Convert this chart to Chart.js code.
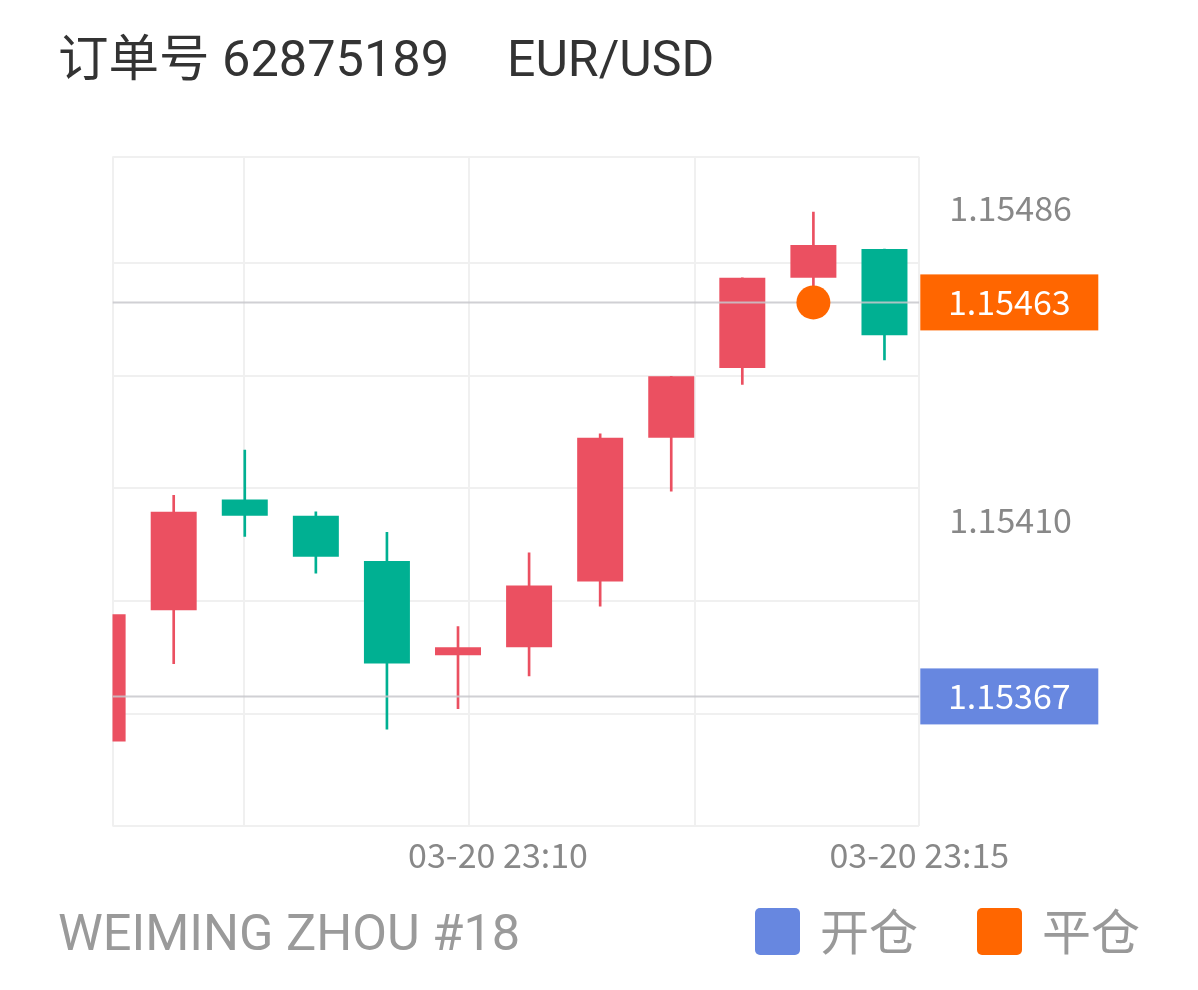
<!DOCTYPE html>
<html><head><meta charset="utf-8">
<script src="https://cdn.jsdelivr.net/npm/chart.js@4.4.1/dist/chart.umd.min.js"></script>
<style>
html,body{margin:0;padding:0;background:#fff;width:1198px;height:990px;overflow:hidden;}
#wrap{position:relative;width:1198px;height:990px;}
canvas{position:absolute;left:0;top:0;}
.t{position:absolute;font-family:Roboto,"Noto Sans CJK SC",sans-serif;line-height:1;white-space:nowrap;}
.cj{position:absolute;font-family:"Noto Sans CJK SC",sans-serif;line-height:1;white-space:nowrap;}
.sq{position:absolute;width:45px;height:47px;border-radius:5px;}
</style></head><body>
<div id="wrap">
<canvas id="c" width="1198" height="990"></canvas>
<div class="t" style="left:58px;top:34px;font-size:50.5px;color:#333">订单号 62875189</div>
<div class="t" style="left:507px;top:34px;font-size:50px;color:#333">EUR/USD</div>
<div class="t" style="left:58px;top:908px;font-size:50.5px;color:#9a9a9a">WEIMING ZHOU #18</div>
<div class="sq" style="left:755px;top:908px;background:#6787E0"></div>
<div class="cj" style="left:820px;top:904px;font-size:49px;color:#999">开仓</div>
<div class="sq" style="left:977px;top:908px;background:#FF6600"></div>
<div class="cj" style="left:1042px;top:904px;font-size:49px;color:#999">平仓</div>
</div>
<script>
// ---- data ----
const candleIndex = [0, 1, 2, 3, 4, 5, 6, 7, 8, 9, 10, 11];
const openValues  = [1.15356, 1.15388, 1.15415, 1.15411, 1.15400, 1.15377, 1.15379, 1.15395, 1.15430, 1.15447, 1.15469, 1.15476];
const closeValues = [1.15387, 1.15412, 1.15411, 1.15401, 1.15375, 1.15379, 1.15394, 1.15430, 1.15445, 1.15469, 1.15477, 1.15455];
const highValues  = [1.15387, 1.15416, 1.15427, 1.15412, 1.15407, 1.15384, 1.15402, 1.15431, 1.15445, 1.15469, 1.15485, 1.15476];
const lowValues   = [1.15356, 1.15375, 1.15406, 1.15397, 1.15359, 1.15364, 1.15372, 1.15389, 1.15417, 1.15443, 1.15463, 1.15449];
const openPrice = 1.15367;   // 开仓
const closePrice = 1.15463;  // 平仓
const closeIndex = 10;

const yTickValues = [1.15486, 1.15410];
const yTickLabels = ['1.15486', '1.15410'];
const yMin = 1.153355, yMax = 1.154985;
const yGridValues = [1.153355, 1.1536281, 1.1539024, 1.1541768, 1.1544511, 1.1547255, 1.154985];
const xMin = 0.139, xMax = 11.49;
const xGridValues = [0.139, 1.994, 5.159, 8.330, 11.49];
const xTickValues = [5.563, 11.49];
const xTickLabels = ['03-20 23:10', '03-20 23:15'];

// ---- styles ----
const UP = '#EB5061', DOWN = '#00B092', ORANGE = '#FF6600', BLUE = '#6787E0';
const GRID = '#f0f0f0';
const AXIS_FONT = '"Noto Sans CJK SC", "Noto Sans", sans-serif';

const candleColor = (ctx) => {
  const i = ctx.dataIndex;
  return closeValues[i] >= openValues[i] ? UP : DOWN;
};

const badgePlugin = {
  id: 'badges',
  afterDraw(chart) {
    const {ctx, chartArea, scales: {y}} = chart;
    [[openPrice, BLUE], [closePrice, ORANGE]].forEach(([v, c]) => {
      const py = y.getPixelForValue(v);
      const left = chartArea.right + 1;
      const w = y.right - left;
      ctx.save();
      ctx.fillStyle = c;
      ctx.fillRect(left, py - 28, w, 56);
      ctx.fillStyle = '#fff';
      ctx.font = '34px ' + AXIS_FONT;
      ctx.textAlign = 'center';
      ctx.textBaseline = 'middle';
      ctx.fillText(v.toFixed(5), left + w / 2, py);
      ctx.restore();
    });
  }
};

new Chart(document.getElementById('c'), {
  type: 'bar',
  data: {
    datasets: [
      {
        label: 'wick',
        data: candleIndex.map((x, i) => ({x, y: [lowValues[i], highValues[i]]})),
        backgroundColor: candleColor,
        barThickness: 2,
        grouped: false,
        order: 4
      },
      {
        label: 'body',
        data: candleIndex.map((x, i) => ({x, y: [openValues[i], closeValues[i]]})),
        backgroundColor: candleColor,
        barPercentage: 0.647,
        categoryPercentage: 1,
        grouped: false,
        order: 3
      },
      {
        type: 'line',
        label: 'open line',
        data: [{x: xMin, y: openPrice}, {x: xMax, y: openPrice}],
        borderColor: 'rgba(200,200,205,0.85)',
        borderWidth: 2,
        pointRadius: 0,
        order: 2
      },
      {
        type: 'line',
        label: 'close line',
        data: [{x: xMin, y: closePrice}, {x: xMax, y: closePrice}],
        borderColor: 'rgba(200,200,205,0.85)',
        borderWidth: 2,
        pointRadius: 0,
        order: 2
      },
      {
        type: 'scatter',
        label: 'close point',
        data: [{x: closeIndex, y: closePrice}],
        backgroundColor: ORANGE,
        borderWidth: 0,
        pointRadius: 17,
        order: 1
      }
    ]
  },
  options: {
    responsive: false,
    animation: false,
    devicePixelRatio: 1,
    layout: {padding: {left: 112.5, top: 156.7, right: 99.7, bottom: 104.3}},
    plugins: {legend: {display: false}, tooltip: {enabled: false}},
    scales: {
      x: {
        type: 'linear', min: xMin, max: xMax, offset: false,
        afterBuildTicks: (s) => {
          s.ticks = xGridValues.map(v => ({value: v})).concat(xTickValues.map(v => ({value: v})));
        },
        afterFit: (s) => { s.height = 60; },
        grid: {
          offset: false, drawTicks: false, lineWidth: 2,
          color: (ctx) => ctx.index < xGridValues.length ? GRID : 'rgba(0,0,0,0)'
        },
        border: {display: false},
        ticks: {
          autoSkip: false, minRotation: 0, maxRotation: 0, padding: 9,
          color: '#888', font: {family: AXIS_FONT, size: 34},
          callback: (v, i) => i < xGridValues.length ? '' : xTickLabels[i - xGridValues.length]
        }
      },
      y: {
        position: 'right', min: yMin, max: yMax, beginAtZero: false,
        afterBuildTicks: (s) => {
          s.ticks = yGridValues.map(v => ({value: v})).concat(yTickValues.map(v => ({value: v})));
        },
        afterFit: (s) => { s.width = 179; },
        grid: {
          drawTicks: false, lineWidth: 2,
          color: (ctx) => ctx.index < yGridValues.length ? GRID : 'rgba(0,0,0,0)'
        },
        border: {display: false},
        ticks: {
          autoSkip: false, crossAlign: 'center', padding: 30,
          color: '#888', font: {family: AXIS_FONT, size: 34},
          callback: (v, i) => i < yGridValues.length ? '' : yTickLabels[i - yGridValues.length]
        }
      }
    }
  },
  plugins: [badgePlugin]
});
</script>
</body></html>
